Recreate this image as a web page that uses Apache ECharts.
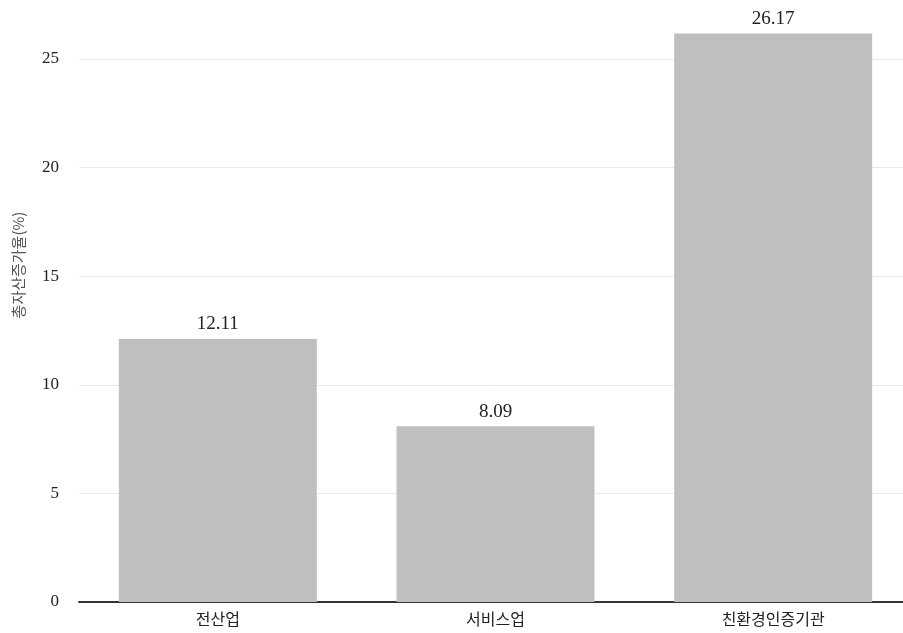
<!DOCTYPE html>
<html><head><meta charset="utf-8">
<script src="https://cdn.jsdelivr.net/npm/echarts@6/dist/echarts.min.js"></script>
<style>html,body{margin:0;padding:0;background:#fff;overflow:hidden;width:903px;height:633px;position:relative}
#c{position:absolute;left:0;top:-60px;width:912px;height:693px}</style>
</head><body><div id="c"></div>
<script>
const categories = ['전산업', '서비스업', '친환경인증기관'];
const values = [12.11, 8.09, 26.17];
const yTicks = [0, 5, 10, 15, 20, 25];
const yName = '총자산증가율(%)';

const chart = echarts.init(document.getElementById('c'));
chart.setOption({
  animation: false,
  textStyle: { fontFamily: '"Liberation Serif", "Noto Sans CJK KR", serif' },
  grid: { left: 79, top: 10.4, right: 0, height: 651.6, containLabel: false },
  xAxis: {
    type: 'category', data: categories,
    axisLine: { lineStyle: { color: '#333', width: 2 } },
    axisTick: { show: false },
    axisLabel: { color: '#222', fontSize: 16, margin: 9, fontFamily: '"Noto Sans CJK KR", sans-serif' }
  },
  yAxis: {
    type: 'value', min: 0, max: 30, interval: 5,
    axisLine: { show: false }, axisTick: { show: false },
    axisLabel: { color: '#222', fontSize: 17, margin: 20,
      formatter: v => yTicks.includes(v) ? String(v) : '' },
    splitLine: { lineStyle: { color: '#e9e9e9', width: 1 } }
  },
  graphic: [{
    type: 'text', x: 18, y: 325, rotation: Math.PI / 2,
    style: { text: yName, fill: '#555', fontSize: 15, align: 'center', verticalAlign: 'middle',
      fontFamily: '"Noto Sans CJK KR", sans-serif' }
  }],
  series: [{
    type: 'bar', data: values, barWidth: '71.3%',
    itemStyle: { color: '#bfbfbf' },
    label: { show: true, position: 'top', color: '#222', fontSize: 19, distance: 5,
      formatter: p => p.value.toFixed(2) }
  }]
});
</script></body></html>
